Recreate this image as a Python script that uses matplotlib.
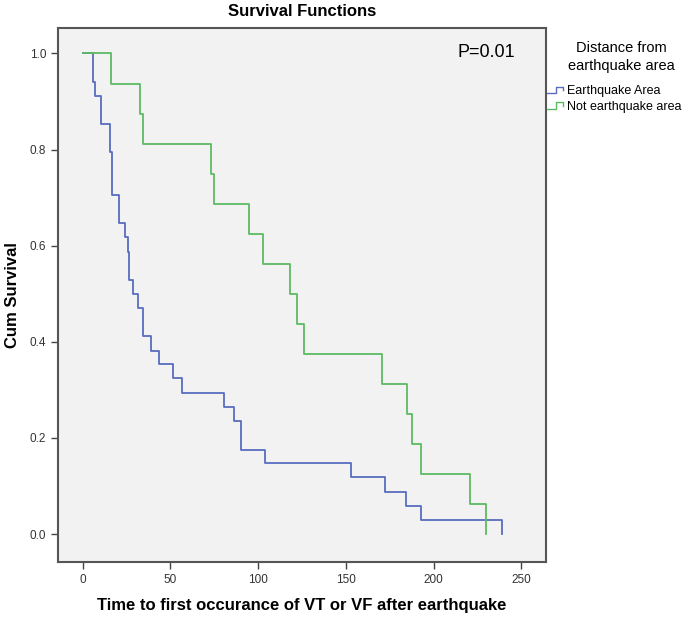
import matplotlib
matplotlib.use("Agg")
import matplotlib.pyplot as plt
from matplotlib.legend_handler import HandlerLine2D
from matplotlib.lines import Line2D

plt.rcParams["font.family"] = ["Liberation Sans", "DejaVu Sans"]

# Kaplan-Meier step data
eq_times = [0, 6, 7.3, 10.7, 15.8, 16.9, 20.7, 24.1, 25.6, 26.6, 28.5, 31.4, 34.6,
            38.8, 43.7, 51.3, 56.4, 80.7, 86.4, 90.0, 103.9, 152.8, 172.0, 184.0,
            192.7, 239.0]
eq_surv = [1.0, 0.941, 0.912, 0.853, 0.794, 0.706, 0.647, 0.618, 0.588, 0.529, 0.500,
           0.471, 0.412, 0.382, 0.353, 0.324, 0.294, 0.265, 0.235, 0.176, 0.147,
           0.118, 0.088, 0.059, 0.029, 0.0]

neq_times = [0, 16.0, 32.7, 34.6, 73.0, 75.0, 94.9, 102.9, 118.1, 121.9, 126.0,
             170.7, 185.1, 187.8, 192.7, 220.8, 229.9]
neq_surv = [1.0, 0.9375, 0.875, 0.8125, 0.75, 0.6875, 0.625, 0.5625, 0.5, 0.4375,
            0.375, 0.3125, 0.25, 0.1875, 0.125, 0.0625, 0.0]

group_labels = ["Earthquake Area", "Not earthquake area"]
x_ticks = [0, 50, 100, 150, 200, 250]
y_ticks = [0.0, 0.2, 0.4, 0.6, 0.8, 1.0]

BLUE = "#5a6cc0"
GREEN = "#5cbb62"


class StepHandler(HandlerLine2D):
    def create_artists(self, legend, orig_handle, xdescent, ydescent, width, height,
                       fontsize, trans):
        x0 = -xdescent
        w = width
        h = height
        xs = [x0, x0 + 0.55 * w, x0 + 0.55 * w, x0 + w, x0 + w]
        ys = [0.1 * h, 0.1 * h, 0.85 * h, 0.85 * h, 0.45 * h]
        ln = Line2D(xs, ys, color=orig_handle.get_color(), lw=1.0)
        ln.set_transform(trans)
        return [ln]


fig = plt.figure(figsize=(6.94, 6.24), dpi=100)
ax = fig.add_axes([58 / 694, 1 - 562 / 624, (546 - 58) / 694, (562 - 28) / 624])
ax.set_facecolor("#f2f2f2")

l1, = ax.step(eq_times, eq_surv, where="post", color=BLUE, lw=1.3)
l2, = ax.step(neq_times, neq_surv, where="post", color=GREEN, lw=1.3)

ax.set_xlim(-14, 264)
ax.set_ylim(-0.058, 1.053)
ax.set_xticks(x_ticks)
ax.set_yticks(y_ticks)
ax.set_yticklabels([f"{v:.1f}" for v in y_ticks])
ax.tick_params(direction="out", length=5, width=1.0, color="#444444",
               labelsize=8.5, labelcolor="#333333")
for s in ax.spines.values():
    s.set_color("#555555")
    s.set_linewidth(1.5)

ax.set_xlabel("Time to first occurance of VT or VF after earthquake",
              fontsize=12, fontweight="bold", labelpad=9)
ax.set_ylabel("Cum Survival", fontsize=12, fontweight="bold", labelpad=7)
fig.text(0.435, 1 - 12 / 624, "Survival Functions", ha="center", va="center",
         fontsize=12, fontweight="bold")
ax.text(0.878, 0.955, "P=0.01", transform=ax.transAxes, ha="center", va="center",
        fontsize=13)

fig.text(621 / 694, 1 - 57 / 624, "Distance from\nearthquake area", ha="center",
         va="center", fontsize=10.5, linespacing=1.3)
leg = fig.legend([l1, l2], group_labels, loc="upper left",
                 bbox_to_anchor=(547 / 694, 1 - 85 / 624),
                 fontsize=9, frameon=False, handlelength=1.3, handletextpad=0.3,
                 labelspacing=0.3, borderaxespad=0.0, borderpad=0.0,
                 handler_map={Line2D: StepHandler()})

fig.savefig("out.png", dpi=100, facecolor="white")
